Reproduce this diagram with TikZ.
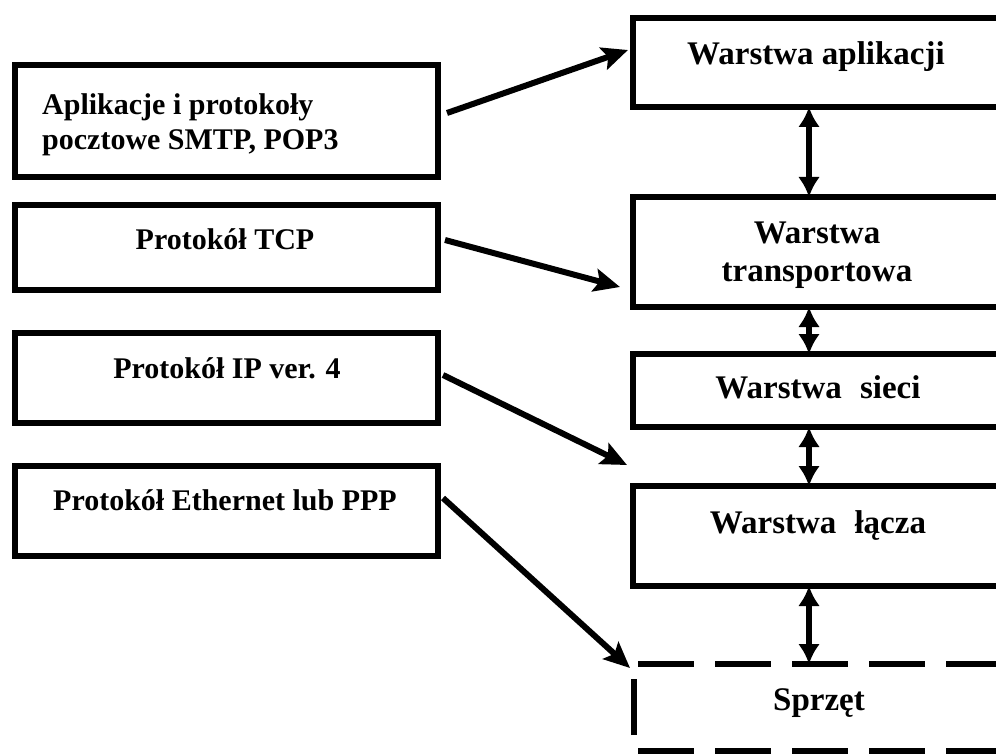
\documentclass[tikz,border=0pt]{standalone}
\usepackage{fontspec}
\setmainfont{Liberation Serif}
\usetikzlibrary{arrows.meta,calc}
\tikzset{
  box/.style={draw, line width=6pt, outer sep=0pt, inner sep=0pt},
  ltext/.style={inner sep=0pt, font=\fontsize{30}{35}\selectfont\bfseries},
  rtext/.style={inner sep=0pt, font=\fontsize{33}{38}\selectfont\bfseries},
  link/.style={line width=6pt, -{Stealth[length=26pt,width=23pt,inset=5pt]}},
  dbl/.style={line width=6pt, {Latex[length=20pt,width=22pt]}-{Latex[length=20pt,width=22pt]}},
  dashline/.style={line width=6pt, dash pattern=on 56pt off 21pt}
}
\begin{document}
\begin{tikzpicture}[x=1pt,y=-1pt]
\useasboundingbox (0,0) rectangle (996,754);
\clip (0,0) rectangle (996,754);

% protocols (left column)
\node[box, minimum width=423pt, minimum height=112pt] (b1) at (226.5,121) {};
\node[box, minimum width=423pt, minimum height=85pt]  (b2) at (226.5,247.5) {};
\node[box, minimum width=423pt, minimum height=90pt]  (b3) at (226.5,378) {};
\node[box, minimum width=423pt, minimum height=90pt]  (b4) at (226.5,511) {};

% multi-line nodes: the base anchor sits on the last line
\node[ltext, anchor=base west, align=left] (t1) at (42,150)
  {Aplikacje i protokoły\\pocztowe SMTP, POP3};
\node[ltext, anchor=base] (t2) at (225,250) {Protokół TCP};
\node[ltext, anchor=base] (t3) at (227,378) {Protokół IP ver. 4};
\node[ltext, anchor=base] (t4) at (225,510) {Protokół Ethernet lub PPP};

% layers (right column)
\node[box, minimum width=369pt, minimum height=88.5pt] (A) at (817.5,62.75) {};
\node[box, minimum width=369pt, minimum height=110pt]  (B) at (817.5,252) {};
\node[box, minimum width=369pt, minimum height=73pt]   (C) at (817.5,390.5) {};
\node[box, minimum width=369pt, minimum height=100pt]  (D) at (817.5,536) {};
\node[minimum width=368pt, minimum height=87pt, inner sep=0pt, outer sep=0pt] (sp) at (818,707.5) {};

\node[rtext, anchor=base] (tA) at (816,65) {Warstwa aplikacji};
\node[rtext, anchor=base, align=center] (tB) at (817,281) {Warstwa\\transportowa};
\node[rtext, anchor=base] (tC) at (818,398) {Warstwa\hspace{0.55em}sieci};
\node[rtext, anchor=base] (tD) at (818,533) {Warstwa\hspace{0.55em}łącza};
\node[rtext, anchor=base] (tS) at (819,710) {Sprzęt};

% hardware: dashed outline
\draw[dashline] ($(sp.north west)+(4,0)$) -- (sp.north east);
\draw[dashline] ($(sp.south west)+(4,0)$) -- (sp.south east);
\draw[dashline, dash phase=61pt] (sp.south west) -- (sp.north west);

% links between layers
\draw[dbl] ($(A.south)+(-8.5,0)$) -- ($(B.north)+(-8.5,0)$);
\draw[dbl] ($(B.south)+(-8.5,0)$) -- ($(C.north)+(-8.5,0)$);
\draw[dbl] ($(C.south)+(-8.5,0)$) -- ($(D.north)+(-8.5,0)$);
\draw[dbl] ($(D.south)+(-8.5,0)$) -- ($(sp.north)+(-9,0)$);

% protocol to layer
\draw[link] ($(b1.east)+(9,-8)$) -- ($(A.west)+(-5,-12.75)$);
\draw[link] ($(b2.east)+(7,-7.5)$) -- ($(B.west)+(-13,35)$);
\draw[link] ($(b3.east)+(5,-3)$) -- ($(D.north west)+(-6,-21)$);
\draw[link] ($(b4.east)+(5,-13)$) -- ($(sp.north west)+(-4,4)$);
\end{tikzpicture}
\end{document}
